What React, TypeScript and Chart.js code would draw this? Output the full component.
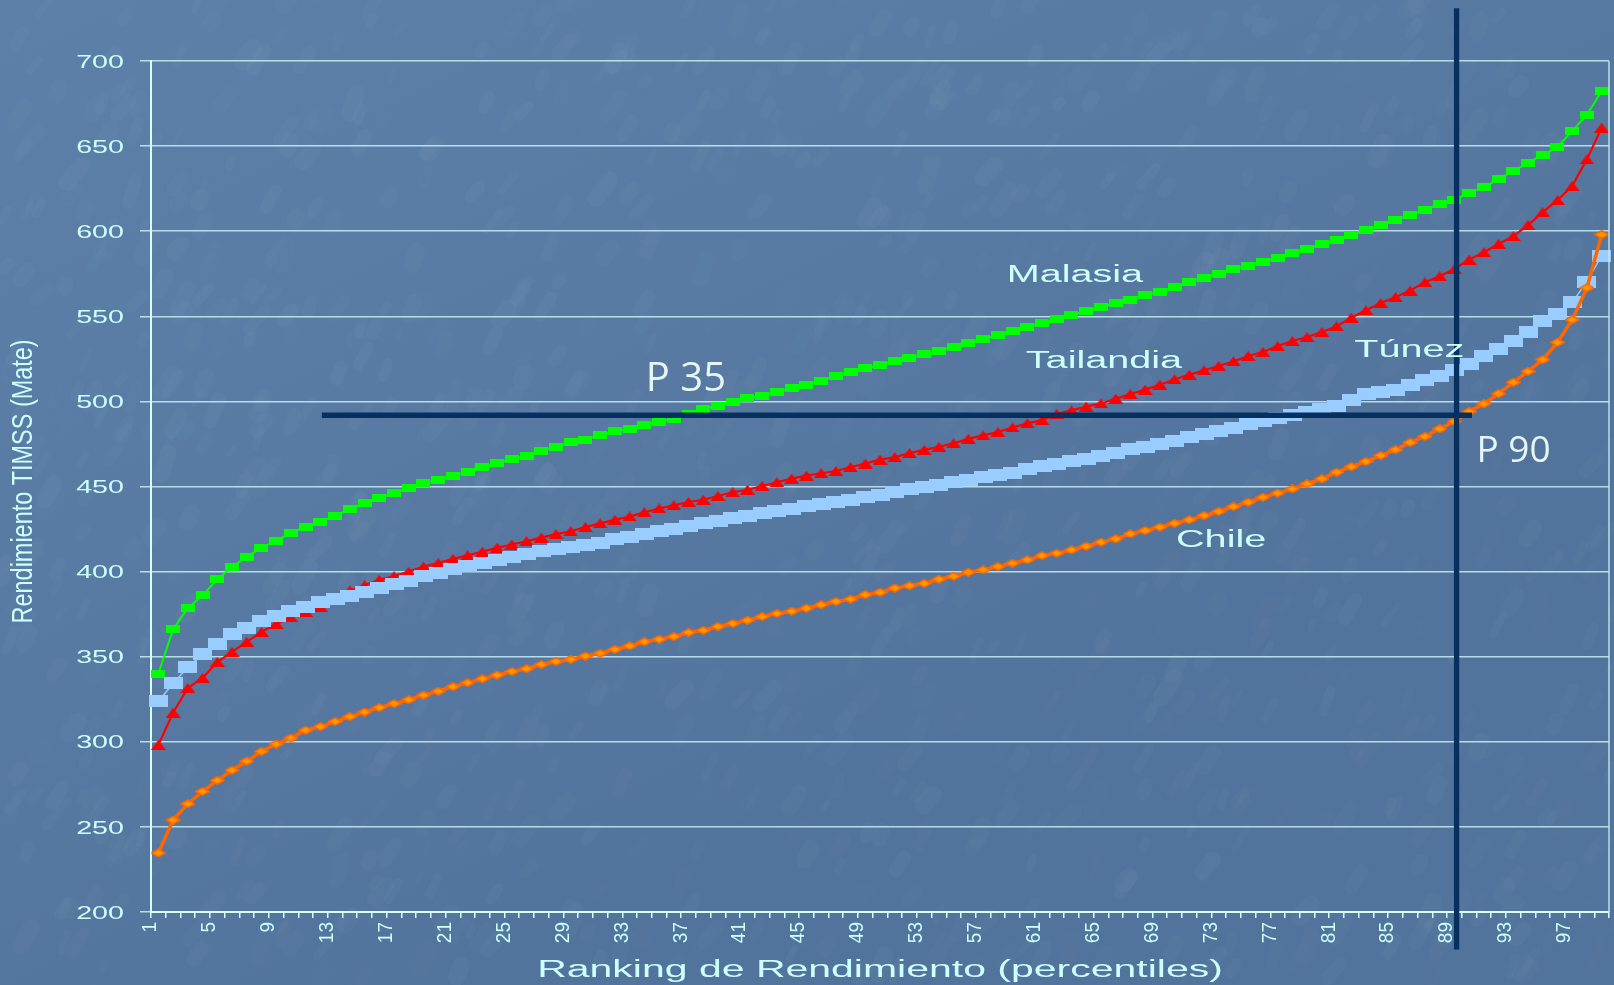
import React, { useEffect, useRef } from "react";
import { Chart, registerables } from "chart.js";

Chart.register(...registerables);

// ---------- data ----------
const PERCENTILES: string[] = [
  "1","2","3","4","5","6","7","8","9","10","11","12","13","14","15","16","17","18","19","20",
  "21","22","23","24","25","26","27","28","29","30","31","32","33","34","35","36","37","38","39","40",
  "41","42","43","44","45","46","47","48","49","50","51","52","53","54","55","56","57","58","59","60",
  "61","62","63","64","65","66","67","68","69","70","71","72","73","74","75","76","77","78","79","80",
  "81","82","83","84","85","86","87","88","89","90","91","92","93","94","95","96","97","98","99",
];

const X_TICK_LABELS: string[] = [
  "1","5","9","13","17","21","25","29","33","37","41","45","49","53","57","61","65","69","73","77","81","85","89","93","97",
];

const Y_TICKS: number[] = [200, 250, 300, 350, 400, 450, 500, 550, 600, 650, 700];

const MALASIA: number[] = [
  340, 366, 378.6, 386, 395.4, 402.7, 408.8, 413.8, 418.2, 422.7,
  426.4, 429.4, 432.9, 436.5, 440.3, 443.2, 446.1, 449.1, 452, 454.1,
  456.4, 458.7, 461.5, 463.8, 466.1, 468.2, 471.1, 473.3, 475.9, 477.6,
  480.2, 482.5, 483.9, 486.3, 488.1, 489.8, 492.5, 495.3, 497.5, 499.5,
  501.8, 503.2, 505.4, 507.7, 509.9, 512, 515.2, 517.2, 519.5, 521.1,
  524, 525.4, 527.6, 529.4, 532, 534.3, 536.5, 539.2, 541.4, 543.7,
  545.9, 548.6, 551, 553.1, 555.5, 557.8, 559.8, 562.7, 564.3, 567.3,
  570.2, 572.6, 575.1, 577.5, 579.8, 582, 584.3, 587.3, 589.8, 592.2,
  595.1, 597.5, 600.6, 603.5, 606.5, 609.6, 612.4, 616.1, 618.6, 622.5,
  625.7, 630.8, 635.3, 640.2, 644.7, 649.6, 658.8, 668.4, 682.4,
];

const TAILANDIA: number[] = [
  298.2, 317.1, 331.6, 337.5, 346.9, 352.8, 358.7, 364.5, 369.2, 373.1,
  376.3, 379.4, 384.1, 388.9, 392, 395.2, 397.3, 400, 402.9, 405,
  407.5, 409.6, 411.7, 414, 415.9, 417.8, 420, 422, 423.7, 426.1,
  428.3, 430.4, 432.4, 434.8, 437.1, 438.9, 440.9, 442.2, 444.4, 446.6,
  448.1, 450.3, 452.5, 454.6, 456.4, 457.8, 459.1, 461.3, 463.5, 465.8,
  467.2, 469.6, 471.5, 473.3, 475.4, 478, 480, 482, 484.7, 487.1,
  489, 492.6, 494.7, 496.9, 498.8, 501.6, 504.3, 506.9, 509.8, 512.9,
  515.7, 518.2, 520.8, 523.5, 526.7, 529, 532.5, 535.5, 537.8, 540.8,
  544.1, 549.2, 553.5, 557.8, 561.2, 565.1, 570, 573.5, 577.8, 583.3,
  587.6, 592.5, 597, 603.5, 611.2, 618.2, 626.5, 642.2, 660.8,
];

const TUNEZ: number[] = [
  323.8, 334.3, 343.8, 351.3, 357.2, 363.1, 367.1, 370.8, 374, 376.9,
  379.4, 381.9, 384, 385.5, 388.2, 390.3, 392.6, 394.7, 397.3, 399.4,
  401.5, 403, 405, 406.7, 408.8, 410.5, 412, 413.2, 414.3, 415.5,
  417, 419.2, 420.6, 422.2, 423.7, 425.3, 426.9, 428.5, 429.8, 431.2,
  432.8, 434.2, 435.5, 436.9, 438.3, 439.9, 441, 442.2, 443.8, 445.2,
  446.6, 448.3, 449.7, 450.9, 452.5, 453.9, 455.5, 456.9, 458, 460,
  462, 463.3, 464.9, 466.3, 467.8, 469.8, 471.8, 473.5, 475.1, 476.7,
  479, 480.6, 482.5, 484.5, 486.5, 488.4, 490.4, 492.2, 493.7, 495.5,
  497.5, 501, 504.3, 505.3, 506.9, 509.6, 512.5, 515.1, 518.6, 522,
  526.5, 530.8, 535.7, 541, 547.5, 551.4, 558.2, 570.4, 585.7,
];

const CHILE: number[] = [
  234.7, 254, 263.6, 270.8, 277.3, 283.3, 288.6, 294.3, 298.7, 302.2,
  306.8, 308.9, 311.9, 314.8, 317.5, 320.1, 322.4, 324.7, 327.4, 329.7,
  332.4, 334.7, 337, 339.2, 341.3, 342.9, 345.4, 347.2, 348.4, 350.4,
  352, 354.3, 356.3, 358.8, 360.2, 361.8, 364.2, 365.5, 367.7, 369.5,
  371.4, 373.6, 375.4, 376.7, 378.5, 380.5, 382.4, 383.8, 386.4, 387.8,
  390.3, 391.7, 393.1, 395.5, 397.3, 399.6, 401, 402.9, 404.9, 406.9,
  409.4, 410.8, 412.7, 414.9, 417.3, 419.2, 422.2, 424.1, 426.1, 428.4,
  430.4, 432.9, 435.3, 438.2, 440.8, 443.7, 446.1, 448.6, 451.6, 454.5,
  458.4, 461.6, 464.7, 468.2, 471.6, 475.9, 479.4, 483.9, 488.2, 494.1,
  498.6, 504.5, 511.2, 517.6, 524.5, 534.7, 548, 566.7, 598,
];

const SERIES_NAMES: string[] = ["Malasia", "Tailandia", "Túnez", "Chile"];
const X_TITLE = "Ranking de Rendimiento (percentiles)";
const Y_TITLE = "Rendimiento TIMSS (Mate)";

// reference lines (data space: category index, score)
const P35_LEVEL = 491.8;
const P35_FROM_INDEX = 11.1;
const P35_TO_INDEX = 89.2;
const P90_INDEX = 88.15;

// annotation anchors (category index of left edge, score at baseline)
const SERIES_LABEL_POS: { idx: number; v: number }[] = [
  { idx: 57.6, v: 569.9 },
  { idx: 58.9, v: 519.6 },
  { idx: 81.2, v: 525.9 },
  { idx: 69.1, v: 414.6 },
];
const P_LABELS: string[] = ["P 35", "P 90"];
const P_LABEL_POS: { idx: number; v: number; size: number }[] = [
  { idx: 33.1, v: 505.9, size: 40 },
  { idx: 89.5, v: 464.5, size: 37 },
];

const TEXT_COLOR = "#CCFFFF";
const NAVY = "#06305F";
const RIGHT_MARGIN = 5;

function makeMarker(w: number, h: number, draw: (g: CanvasRenderingContext2D, w: number, h: number) => void) {
  const c = document.createElement("canvas");
  c.width = w;
  c.height = h;
  const g = c.getContext("2d")!;
  draw(g, w, h);
  return c;
}

function stretchedText(
  ctx: CanvasRenderingContext2D,
  text: string,
  x: number,
  y: number,
  font: string,
  sx: number,
  align: "left" | "right" | "center",
  color: string
) {
  ctx.save();
  ctx.font = font;
  ctx.fillStyle = color;
  ctx.textBaseline = "alphabetic";
  ctx.textAlign = "left";
  const w = ctx.measureText(text).width * sx;
  let left = x;
  if (align === "right") left = x - w;
  else if (align === "center") left = x - w / 2;
  ctx.translate(left, y);
  ctx.scale(sx, 1);
  ctx.fillText(text, 0, 0);
  ctx.restore();
}

// deterministic hash for the background texture (decoration only)
function hash(n: number) {
  const s = Math.sin(n * 127.1 + 311.7) * 43758.5453;
  return s - Math.floor(s);
}

const decorPlugin = {
  id: "decor",
  afterLayout(chart: any) {
    // make the plot area reach the same right edge as the original
    const target = chart.width - RIGHT_MARGIN;
    const ca = chart.chartArea;
    if (Math.abs(ca.right - target) > 0.5) {
      ca.right = target;
      ca.width = target - ca.left;
      const xs = chart.scales.x;
      xs.right = target;
      xs.width = target - xs.left;
      xs.configure();
    }
  },
  beforeDraw(chart: any) {
    const { ctx, width, height } = chart;
    ctx.save();
    const g = ctx.createLinearGradient(0, 0, width * 0.3, height);
    g.addColorStop(0, "#5D80A8");
    g.addColorStop(0.5, "#597BA3");
    g.addColorStop(1, "#52739B");
    ctx.fillStyle = g;
    ctx.fillRect(0, 0, width, height);
    // soft marbled patches
    ctx.lineCap = "round";
    for (let i = 0; i < 1100; i++) {
      const x = hash(i) * width;
      const y = hash(i + 5000) * height;
      const len = 6 + hash(i + 9000) * 18;
      const ang = -0.8 - hash(i + 13000) * 0.5;
      const a = 0.015 + hash(i + 17000) * 0.03;
      ctx.strokeStyle = `rgba(185,210,235,${a})`;
      ctx.lineWidth = 6 + hash(i + 21000) * 12;
      ctx.beginPath();
      ctx.moveTo(x, y);
      ctx.lineTo(x + Math.cos(ang) * len, y + Math.sin(ang) * len);
      ctx.stroke();
    }
    ctx.restore();
  },
  afterDraw(chart: any) {
    const { ctx, chartArea } = chart;
    const xs = chart.scales.x;
    const ys = chart.scales.y;
    ctx.save();

    // right border of plot
    ctx.strokeStyle = "rgba(200,240,245,0.85)";
    ctx.lineWidth = 1.5;
    ctx.beginPath();
    ctx.moveTo(chartArea.right, chartArea.top);
    ctx.lineTo(chartArea.right, chartArea.bottom);
    ctx.stroke();

    // y tick labels
    for (const v of Y_TICKS) {
      const y = ys.getPixelForValue(v);
      stretchedText(ctx, String(v), chartArea.left - 27, y + 6.6, '18.5px "Liberation Sans", Arial, sans-serif', 1.55, "right", TEXT_COLOR);
    }

    // x tick labels (rotated)
    ctx.font = '19px "Liberation Sans", Arial, sans-serif';
    ctx.fillStyle = TEXT_COLOR;
    ctx.textAlign = "right";
    ctx.textBaseline = "alphabetic";
    for (const lab of X_TICK_LABELS) {
      const idx = PERCENTILES.indexOf(lab);
      const cx = xs.getPixelForValue(idx) - 9;
      ctx.save();
      ctx.translate(cx + 7, chartArea.bottom + 10);
      ctx.scale(1.08, 1);
      ctx.rotate(-Math.PI / 2);
      ctx.fillText(lab, 0, 0);
      ctx.restore();
    }

    // x axis title
    stretchedText(ctx, X_TITLE, (chartArea.left + chartArea.right) / 2, chartArea.bottom + 65, '24.7px "Liberation Sans", Arial, sans-serif', 1.66, "center", TEXT_COLOR);

    // y axis title (rotated, compressed along its length)
    ctx.save();
    ctx.font = '30px "Liberation Sans", Arial, sans-serif';
    ctx.fillStyle = TEXT_COLOR;
    ctx.textBaseline = "alphabetic";
    ctx.textAlign = "left";
    const tw = ctx.measureText(Y_TITLE).width;
    const targetLen = 284;
    const midY = ys.getPixelForValue(453);
    ctx.translate(32, midY + targetLen / 2);
    ctx.rotate(-Math.PI / 2);
    ctx.scale(targetLen / tw, 1);
    ctx.fillText(Y_TITLE, 0, 0);
    ctx.restore();

    // series labels
    SERIES_NAMES.forEach((name, i) => {
      const p = SERIES_LABEL_POS[i];
      stretchedText(ctx, name, xs.getPixelForValue(p.idx), ys.getPixelForValue(p.v), '23.3px "Liberation Sans", Arial, sans-serif', 1.7, "left", TEXT_COLOR);
    });

    // percentile labels
    P_LABELS.forEach((t, i) => {
      const p = P_LABEL_POS[i];
      stretchedText(ctx, t, xs.getPixelForValue(p.idx), ys.getPixelForValue(p.v), `${p.size}px "Open Sans", "Noto Sans", sans-serif`, 1.0, "left", "#E4F6F6");
    });

    ctx.restore();
  },
  afterDatasetsDraw(chart: any) {
    const { ctx } = chart;
    const xs = chart.scales.x;
    const ys = chart.scales.y;
    ctx.save();
    ctx.strokeStyle = NAVY;
    ctx.lineCap = "butt";
    // horizontal P35 line
    ctx.lineWidth = 5.5;
    ctx.beginPath();
    const hy = ys.getPixelForValue(P35_LEVEL);
    ctx.moveTo(xs.getPixelForValue(P35_FROM_INDEX), hy);
    ctx.lineTo(xs.getPixelForValue(P35_TO_INDEX), hy);
    ctx.stroke();
    // vertical P90 line
    ctx.lineWidth = 5.3;
    ctx.beginPath();
    const vx = xs.getPixelForValue(P90_INDEX);
    ctx.moveTo(vx, ys.getPixelForValue(731));
    ctx.lineTo(vx, ys.getPixelForValue(178));
    ctx.stroke();
    ctx.restore();
  },
};

export default function App() {
  const ref = useRef<HTMLCanvasElement | null>(null);

  useEffect(() => {
    if (!ref.current) return;
    const green = makeMarker(14, 8, (g, w, h) => {
      g.fillStyle = "#00FF00";
      g.fillRect(0, 0, w, h);
    });
    const red = makeMarker(15, 10, (g, w, h) => {
      g.fillStyle = "#FF0000";
      g.beginPath();
      g.moveTo(w / 2, 0);
      g.lineTo(w, h);
      g.lineTo(0, h);
      g.closePath();
      g.fill();
    });
    const blue = makeMarker(19, 12, (g, w, h) => {
      g.fillStyle = "#99CCFF";
      g.fillRect(0, 0, w, h);
    });
    const orange = makeMarker(15, 9, (g, w, h) => {
      g.fillStyle = "#FF9900";
      g.strokeStyle = "#FF6600";
      g.lineWidth = 1.5;
      g.beginPath();
      g.moveTo(w / 2, 0.75);
      g.lineTo(w - 0.75, h / 2);
      g.lineTo(w / 2, h - 0.75);
      g.lineTo(0.75, h / 2);
      g.closePath();
      g.fill();
      g.stroke();
    });

    const common = { pointRadius: 1, pointHoverRadius: 1, pointBorderWidth: 0, tension: 0, clip: false as any };
    const chart = new Chart(ref.current, {
      type: "line",
      data: {
        labels: PERCENTILES,
        datasets: [
          { label: SERIES_NAMES[0], data: MALASIA, borderColor: "#00FF00", backgroundColor: "#00FF00", borderWidth: 2, pointStyle: green as any, order: 3, ...common },
          { label: SERIES_NAMES[1], data: TAILANDIA, borderColor: "#FF0000", backgroundColor: "#FF0000", borderWidth: 2.2, pointStyle: red as any, order: 2, ...common },
          { label: SERIES_NAMES[2], data: TUNEZ, borderColor: "#99CCFF", backgroundColor: "#99CCFF", borderWidth: 1.5, pointStyle: blue as any, order: 1, ...common },
          { label: SERIES_NAMES[3], data: CHILE, borderColor: "#FF6600", backgroundColor: "#FF9900", borderWidth: 3.5, pointStyle: orange as any, order: 0, ...common },
        ],
      },
      options: {
        responsive: false,
        animation: false,
        devicePixelRatio: 1,
        layout: { padding: { top: 61, right: RIGHT_MARGIN, left: 0, bottom: 0 } },
        plugins: {
          legend: { display: false },
          tooltip: { enabled: false },
          title: { display: false },
        },
        scales: {
          x: {
            type: "category",
            offset: true,
            grid: { display: true, drawOnChartArea: false, drawTicks: true, tickLength: 6, offset: true, color: "#CCFFFF", lineWidth: 1.5 },
            border: { display: true, color: "#D8FFFF", width: 2 },
            ticks: { display: false, autoSkip: false },
            afterFit: (s: any) => { s.height = 73; s.paddingLeft = 0; s.paddingRight = 0; },
          } as any,
          y: {
            type: "linear",
            min: 200,
            max: 700,
            ticks: { display: false, stepSize: 50 },
            grid: { color: "rgba(200,240,245,0.85)", lineWidth: 1.5, drawTicks: true, tickLength: 11 },
            border: { display: true, color: "#D8FFFF", width: 2 },
            afterFit: (s: any) => { s.width = 151; s.paddingTop = 0; s.paddingBottom = 0; },
          } as any,
        },
      },
      plugins: [decorPlugin],
    });
    return () => chart.destroy();
  }, []);

  return (
    <div style={{ position: "fixed", left: 0, top: 0, width: 1614, height: 985 }}>
      <canvas ref={ref} width={1614} height={985} style={{ display: "block", width: 1614, height: 985 }} />
    </div>
  );
}
